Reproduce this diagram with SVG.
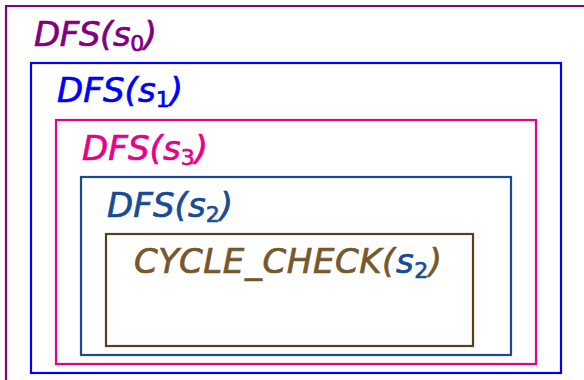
<svg xmlns="http://www.w3.org/2000/svg" width="584" height="380" viewBox="0 0 584 380">
<style>
.box{fill:none;stroke-width:2.2}
.lbl{font-family:"DejaVu Sans","Liberation Sans",sans-serif;font-style:italic;font-size:34px;stroke-width:0.7}
.sub{font-style:normal;font-size:22px}
</style>
<rect width="584" height="380" fill="#ffffff"/>
<g id="dfs-s0">
<path class="box" d="M6,390 V6 H600" stroke="#800080"/>
<text class="lbl" x="34" y="46" fill="#800080" stroke="#800080" textLength="123" lengthAdjust="spacing">DFS(s<tspan class="sub" dy="5">0</tspan><tspan dy="-5">)</tspan></text>
</g>
<g id="dfs-s1">
<rect class="box" x="31" y="63" width="530" height="310" stroke="#0000ff"/>
<text class="lbl" x="57" y="102" fill="#0000ff" stroke="#0000ff" textLength="126" lengthAdjust="spacing">DFS(s<tspan class="sub" dy="5">1</tspan><tspan dy="-5">)</tspan></text>
</g>
<g id="dfs-s3">
<rect class="box" x="56" y="120" width="480" height="244" stroke="#e6008a"/>
<text class="lbl" x="82" y="160" fill="#e6008a" stroke="#e6008a" textLength="126" lengthAdjust="spacing">DFS(s<tspan class="sub" dy="5">3</tspan><tspan dy="-5">)</tspan></text>
</g>
<g id="dfs-s2">
<rect class="box" x="81" y="177" width="430" height="178" stroke="#184b96"/>
<text class="lbl" x="107" y="217" fill="#184b96" stroke="#184b96" textLength="126" lengthAdjust="spacing">DFS(s<tspan class="sub" dy="5">2</tspan><tspan dy="-5">)</tspan></text>
</g>
<g id="cycle-check-s2">
<rect class="box" x="106" y="234" width="367" height="112" stroke="#5a3f1c"/>
<text class="lbl" x="134" y="273" fill="#76582c" stroke="#76582c" textLength="308" lengthAdjust="spacing">CYCLE_CHECK(<tspan fill="#184b96" stroke="#184b96">s</tspan><tspan class="sub" dy="5" fill="#184b96" stroke="#184b96">2</tspan><tspan dy="-5">)</tspan></text>
</g>
<g id="connectors"></g>
</svg>
